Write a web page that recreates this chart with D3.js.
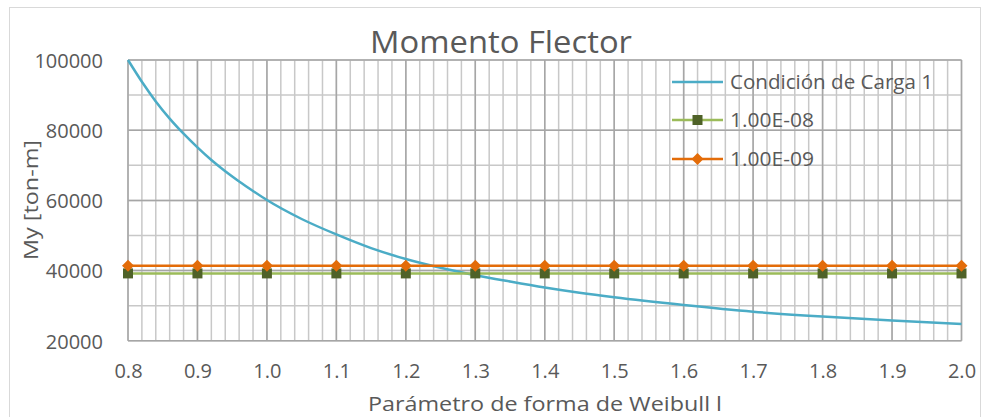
<!DOCTYPE html>
<html>
<head>
<meta charset="utf-8">
<script src="https://cdn.jsdelivr.net/npm/d3@7"></script>
<style>
  html, body { margin: 0; padding: 0; background: #fff; }
  svg { display: block; }
  text { font-family: "Open Sans", Lato, sans-serif; fill: #595959; }
</style>
</head>
<body>
<svg id="chart" width="990" height="417"></svg>
<script>
// ---- data ----
const title = "Momento Flector";
const xLabel = "Parámetro de forma de Weibull l";
const yLabel = "My [ton-m]";
const seriesNames = ["Condición de Carga 1", "1.00E-08", "1.00E-09"];

const curveX = [0.80, 0.82, 0.84, 0.86, 0.88, 0.90, 0.92, 0.94, 0.96, 0.98, 1.00,
                1.05, 1.10, 1.15, 1.20, 1.25, 1.30, 1.35, 1.40, 1.45, 1.50,
                1.60, 1.70, 1.80, 1.90, 2.00];
const curveY = [100000, 93800, 88200, 83300, 79000, 75100, 71500, 68300, 65400, 62700, 60100,
                54700, 50300, 46400, 43300, 40800, 38700, 36900, 35200, 33700, 32400,
                30200, 28300, 26900, 25750, 24800];

const markerX = [0.8, 0.9, 1.0, 1.1, 1.2, 1.3, 1.4, 1.5, 1.6, 1.7, 1.8, 1.9, 2.0];
const series8 = [39200, 39200, 39200, 39200, 39200, 39200, 39200, 39200, 39200, 39200, 39200, 39200, 39200];
const series9 = [41400, 41400, 41400, 41400, 41400, 41400, 41400, 41400, 41400, 41400, 41400, 41400, 41400];

const xTicks = [0.8, 0.9, 1.0, 1.1, 1.2, 1.3, 1.4, 1.5, 1.6, 1.7, 1.8, 1.9, 2.0];
const yTicks = [20000, 40000, 60000, 80000, 100000];

// ---- layout ----
const svg = d3.select("#chart");
const pL = 128, pR = 961.5, pT = 60, pB = 340.8;

const x = d3.scaleLinear().domain([0.8, 2.0]).range([pL, pR]);
const y = d3.scaleLinear().domain([20000, 100000]).range([pB, pT]);

// outer border
svg.append("rect").attr("x", 9.5).attr("y", 7.5).attr("width", 971).attr("height", 430)
  .attr("fill", "#fff").attr("stroke", "#d9d9d9").attr("stroke-width", 1);

// grid
const g = svg.append("g");
const minorX = d3.range(0, 61).map(i => 0.8 + i * 0.02);
const minorY = d3.range(0, 9).map(i => 20000 + i * 10000);
g.selectAll(".mx").data(minorX).enter().append("line")
  .attr("x1", d => x(d)).attr("x2", d => x(d)).attr("y1", pT).attr("y2", pB)
  .attr("stroke", "#c8c8c8").attr("stroke-width", 1.5);
g.selectAll(".my").data(minorY).enter().append("line")
  .attr("x1", pL).attr("x2", pR).attr("y1", d => y(d)).attr("y2", d => y(d))
  .attr("stroke", "#c8c8c8").attr("stroke-width", 1.5);
g.selectAll(".Mx").data(xTicks).enter().append("line")
  .attr("x1", d => x(d)).attr("x2", d => x(d)).attr("y1", pT).attr("y2", pB)
  .attr("stroke", "#a6a6a6").attr("stroke-width", 1.5);
g.selectAll(".My").data(yTicks).enter().append("line")
  .attr("x1", pL).attr("x2", pR).attr("y1", d => y(d)).attr("y2", d => y(d))
  .attr("stroke", "#a6a6a6").attr("stroke-width", 1.5);

// axes
const xAxis = d3.axisBottom(x).tickValues(xTicks).tickSize(0).tickPadding(0).tickFormat(d3.format(".1f"));
const xg = svg.append("g").attr("transform", `translate(0,${pB})`).call(xAxis);
xg.select(".domain").remove();
xg.selectAll("text").attr("dy", null).attr("y", 37).style("font-size", "20px")
  .style("font-family", "'Open Sans', sans-serif").attr("fill", "#595959");

const yAxis = d3.axisLeft(y).tickValues(yTicks).tickSize(0).tickPadding(0).tickFormat(d3.format("d"));
const yg = svg.append("g").attr("transform", `translate(${pL},0)`).call(yAxis);
yg.select(".domain").remove();
yg.selectAll("text").attr("x", -25).attr("dy", "0.36em").style("font-size", "20px")
  .style("font-family", "'Open Sans', sans-serif").attr("fill", "#595959");

// titles
svg.append("text").attr("x", 501).attr("y", 53).attr("text-anchor", "middle")
  .style("font-size", "31px").attr("textLength", 262).attr("lengthAdjust", "spacingAndGlyphs").text(title);
svg.append("text").attr("x", 545).attr("y", 411).attr("text-anchor", "middle")
  .style("font-size", "20px").attr("textLength", 354).attr("lengthAdjust", "spacingAndGlyphs").text(xLabel);
svg.append("text").attr("transform", `translate(38,200) rotate(-90)`).attr("text-anchor", "middle")
  .style("font-size", "20px").attr("textLength", 120).attr("lengthAdjust", "spacingAndGlyphs").text(yLabel);

// series
const colBlue = "#4bacc6", colGreen = "#9bbb59", colGreenM = "#4f6228", colOrange = "#e36c09";

svg.append("path").datum(curveX.map((d, i) => [d, curveY[i]]))
  .attr("d", d3.line().x(d => x(d[0])).y(d => y(d[1])).curve(d3.curveMonotoneX))
  .attr("fill", "none").attr("stroke", colBlue).attr("stroke-width", 2.5);

const d8 = markerX.map((d, i) => [d, series8[i]]);
const d9 = markerX.map((d, i) => [d, series9[i]]);
const lineGen = d3.line().x(d => x(d[0])).y(d => y(d[1]));

svg.append("path").datum(d8).attr("d", lineGen).attr("fill", "none")
  .attr("stroke", colGreen).attr("stroke-width", 2.5);
svg.selectAll(".sq").data(d8).enter().append("path")
  .attr("d", d3.symbol(d3.symbolSquare, 100))
  .attr("transform", d => `translate(${x(d[0])},${y(d[1])})`)
  .attr("fill", colGreenM);

svg.append("path").datum(d9).attr("d", lineGen).attr("fill", "none")
  .attr("stroke", colOrange).attr("stroke-width", 2.5);
svg.selectAll(".di").data(d9).enter().append("path")
  .attr("d", d3.symbol(d3.symbolSquare, 72))
  .attr("transform", d => `translate(${x(d[0])},${y(d[1])}) rotate(45)`)
  .attr("fill", colOrange);

// legend
const leg = svg.append("g");
const legRows = [82, 120, 159];
const legCols = [colBlue, colGreen, colOrange];
const legWidths = [203, 84, 84];
seriesNames.forEach((name, i) => {
  leg.append("line").attr("x1", 672).attr("x2", 723).attr("y1", legRows[i]).attr("y2", legRows[i])
    .attr("stroke", legCols[i]).attr("stroke-width", 2.5);
  if (i === 1) {
    leg.append("path").attr("d", d3.symbol(d3.symbolSquare, 100))
      .attr("transform", `translate(697.5,${legRows[i]})`).attr("fill", colGreenM);
  }
  if (i === 2) {
    leg.append("path").attr("d", d3.symbol(d3.symbolSquare, 72))
      .attr("transform", `translate(697.5,${legRows[i]}) rotate(45)`).attr("fill", colOrange);
  }
  leg.append("text").attr("x", 730).attr("y", legRows[i]).attr("dy", "0.36em")
    .style("font-size", "20px").attr("textLength", legWidths[i]).attr("lengthAdjust", "spacingAndGlyphs").text(name);
});
</script>
</body>
</html>
